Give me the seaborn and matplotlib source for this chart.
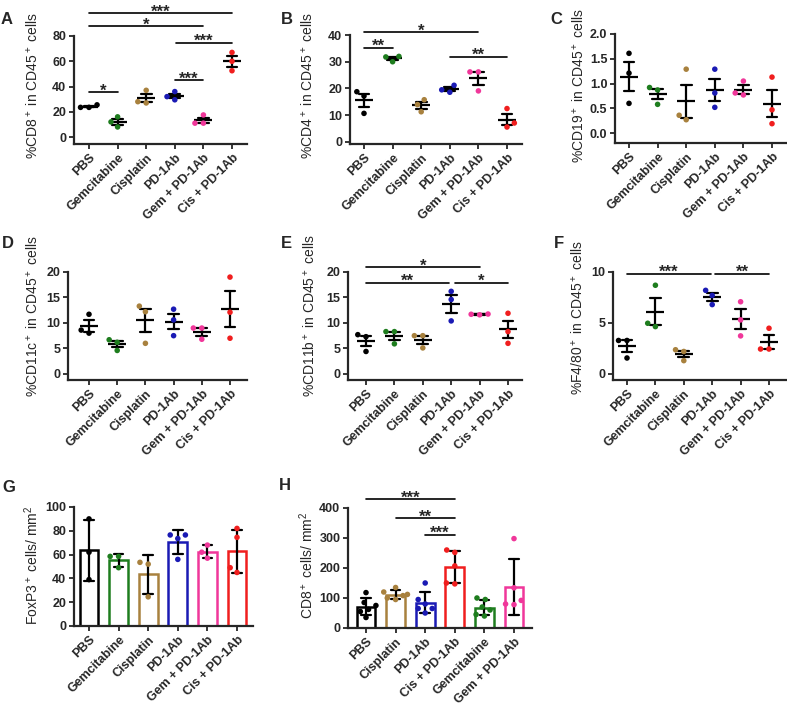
import warnings
import numpy as np
import pandas as pd
import matplotlib
matplotlib.use('Agg')
import matplotlib.pyplot as plt
import seaborn as sns
warnings.filterwarnings('ignore')

sns.set_style('ticks')
plt.rcParams['font.family'] = ['Liberation Sans', 'DejaVu Sans']
plt.rcParams['mathtext.default'] = 'regular'

# groups and colours
groups = ['PBS', 'Gemcitabine', 'Cisplatin', 'PD-1Ab', 'Gem + PD-1Ab', 'Cis + PD-1Ab']
groups_h = ['PBS', 'Cisplatin', 'PD-1Ab', 'Cis + PD-1Ab', 'Gemcitabine', 'Gem + PD-1Ab']
palette = {'PBS': '#000000', 'Gemcitabine': '#1e7d1e', 'Cisplatin': '#a8813e',
           'PD-1Ab': '#1a1ab4', 'Gem + PD-1Ab': '#f0379a', 'Cis + PD-1Ab': '#f01e1e'}

# per-mouse values (one list per group)
cd8_pct = [[23.5, 25.5, 23.5], [16, 12, 8], [37, 28, 27], [36, 32, 29.5], [17.5, 11, 11], [67, 60, 52.5]]
cd4_pct = [[18.8, 17.2, 10.7], [32, 31.8, 30], [15.8, 14, 11.3], [21.2, 19.5, 18.6], [26.2, 26.2, 19.1], [12.5, 7.1, 5.6]]
cd19_pct = [[1.61, 1.21, 0.60], [0.92, 0.87, 0.58], [1.29, 0.36, 0.27], [1.29, 0.81, 0.52], [1.05, 0.81, 0.77], [1.13, 0.47, 0.19]]
cd11c_pct = [[11.7, 8.0, 8.6], [6.7, 6.2, 4.6], [13.3, 12.2, 6.0], [12.7, 10.6, 7.5], [9.0, 9.0, 6.8], [19.0, 12.1, 7.0]]
cd11b_pct = [[7.7, 7.3, 4.4], [8.3, 8.3, 5.9], [7.5, 7.5, 5.1], [16.2, 14.6, 10.4], [11.75, 11.7, 11.6], [11.9, 8.3, 6.0]]
f480_pct = [[3.28, 3.28, 1.56], [8.7, 4.97, 4.64], [2.37, 2.2, 1.3], [8.2, 7.7, 6.8], [7.08, 5.3, 3.73], [4.48, 2.44, 2.44]]
foxp3_density = [[90, 62, 39], [58.5, 58.5, 49], [53.5, 52, 24.5], [76.5, 76.5, 73.5, 56], [68, 62, 57], [82, 74.5, 49, 45]]
cd8_density = [[118, 85, 75, 62, 55, 35], [135, 120, 112, 108, 100, 95], [150, 95, 80, 65, 65, 50],
               [260, 252, 207, 150, 147], [100, 95, 70, 60, 45, 40], [298, 134, 92, 80, 78]]

W, H = 787, 706
fig = plt.figure(figsize=(W / 100, H / 100), dpi=100)


def make_df(values, order):
    rows = [(g, v) for g, vals in zip(order, values) for v in vals]
    return pd.DataFrame(rows, columns=['group', 'value'])


def place_axes(left, top, right, bottom, x0, x5):
    ax = fig.add_axes([left / W, 1 - bottom / H, (right - left) / W, (bottom - top) / H])
    dx = (x5 - x0) / 5
    return ax, ((left - x0) / dx, 5 + (right - x5) / dx)


def style_axes(ax, order, xlim, ylim, yticks, fmt='%g'):
    ax.set_xlim(*xlim)
    ax.set_ylim(*ylim)
    ax.set_xlabel('')
    ax.set_ylabel('')
    sns.despine(ax=ax)
    for s in ['left', 'bottom']:
        ax.spines[s].set_linewidth(1.6)
    ax.set_yticks(yticks)
    ax.set_yticklabels([fmt % t for t in yticks], fontweight='bold', fontsize=9)
    ax.set_xticks(range(len(order)))
    ax.set_xticklabels(order, rotation=45, ha='right', rotation_mode='anchor',
                       fontweight='bold', fontsize=9)
    ax.tick_params(width=1.3, length=3.5, pad=2)


def sig(ax, x1, x2, y, stars):
    ax.plot([x1, x2], [y, y], color='black', lw=1.2, clip_on=False)
    ax.annotate(stars, ((x1 + x2) / 2, y), xytext=(0, -2.5), textcoords='offset points',
                ha='center', va='baseline', fontsize=12, fontweight='bold',
                annotation_clip=False)


def dots(df, order, ax):
    # invisible wide edge gives the looser spacing of the original dot plots
    sns.swarmplot(data=df, x='group', y='value', order=order, hue='group', hue_order=order,
                  palette=palette, size=4, linewidth=1.8, edgecolor='none',
                  legend=False, ax=ax)


def scatter_panel(values, box, xs, ylim, yticks, fmt='%g'):
    ax, xlim = place_axes(*box, *xs)
    df = make_df(values, groups)
    dots(df, groups, ax)
    sns.pointplot(data=df, x='group', y='value', order=groups, errorbar='se', color='black',
                  markers='_', markersize=13.5, markeredgewidth=1.6, linestyle='none',
                  capsize=0.38, err_kws={'linewidth': 1.6}, ax=ax)
    style_axes(ax, groups, xlim, ylim, yticks, fmt)
    return ax


def bar_panel(values, order, box, xs, ylim, yticks):
    ax, xlim = place_axes(*box, *xs)
    df = make_df(values, order)
    sns.barplot(data=df, x='group', y='value', order=order, hue='group', hue_order=order,
                palette=palette, fill=False, linewidth=1.8, width=0.64, errorbar='sd',
                capsize=0.32, err_kws={'color': 'black', 'linewidth': 1.6}, legend=False, ax=ax)
    dots(df, order, ax)
    style_axes(ax, order, xlim, ylim, yticks)
    return ax


def label(x, y, text):
    fig.text(x / W, 1 - y / H, text, rotation=90, ha='center', va='center', fontsize=10)


def letter(x, y, text):
    fig.text(x / W, 1 - y / H, text, ha='left', va='center', fontsize=12, fontweight='bold')


# A
ax = scatter_panel(cd8_pct, (74, 36, 247, 144), (89, 232), (-5.5, 80), [0, 20, 40, 60, 80])
sig(ax, 0, 5, 98.1, '***')
sig(ax, 0, 4, 87.6, '*')
sig(ax, 3.05, 5, 74.8, '***')
sig(ax, 3, 4, 45.1, '***')
sig(ax, 0, 1, 35.7, '*')
label(33, 85, r'%CD8$^+$ in CD45$^+$ cells')
letter(1, 20, 'A')

# B
ax = scatter_panel(cd4_pct, (350, 35, 522, 144), (364, 507), (-0.75, 40), [0, 10, 20, 30, 40])
sig(ax, 0, 4, 41, '*')
sig(ax, 0, 1, 35.3, '**')
sig(ax, 3, 5, 31.9, '**')
label(308, 85, r'%CD4$^+$ in CD45$^+$ cells')
letter(281, 20, 'B')

# C
ax = scatter_panel(cd19_pct, (615, 34, 786, 143), (629, 772), (-0.2, 2.0),
                   [0.0, 0.5, 1.0, 1.5, 2.0], '%.1f')
label(579, 86, r'%CD19$^+$ in CD45$^+$ cells')
letter(550, 20, 'C')

# D
ax = scatter_panel(cd11c_pct, (68, 272, 247, 380), (89, 230), (-1.2, 20), [0, 5, 10, 15, 20])
label(33, 316, r'%CD11c$^+$ in CD45$^+$ cells')
letter(2, 243, 'D')

# E
ax = scatter_panel(cd11b_pct, (348, 272, 522, 380), (366, 508), (-1.2, 20), [0, 5, 10, 15, 20])
sig(ax, 0, 4, 21.0, '*')
sig(ax, 0, 2.92, 17.9, '**')
sig(ax, 3.12, 5, 17.9, '*')
label(310, 316, r'%CD11b$^+$ in CD45$^+$ cells')
letter(281, 243, 'E')

# F
ax = scatter_panel(f480_pct, (613, 272, 786, 380), (627, 769), (-0.6, 10), [0, 5, 10])
sig(ax, 0, 2.95, 9.84, '***')
sig(ax, 3.1, 5, 9.84, '**')
label(578, 318, r'%F4/80$^+$ in CD45$^+$ cells')
letter(554, 244, 'F')

# G
ax = bar_panel(foxp3_density, groups, (74, 507, 253, 626), (89, 237), (0, 100),
               [0, 20, 40, 60, 80, 100])
label(32, 565, r'FoxP3$^+$ cells/ mm$^2$')
letter(2, 487, 'G')

# H
ax = bar_panel(cd8_density, groups_h, (348, 508, 532, 628), (366, 514), (0, 400),
               [0, 100, 200, 300, 400])
sig(ax, 0, 3, 430, '***')
sig(ax, 1, 3, 366, '**')
sig(ax, 2, 3, 311, '***')
label(307, 565, r'CD8$^+$ cells/ mm$^2$')
letter(279, 486, 'H')

fig.savefig('out.png', dpi=100)
